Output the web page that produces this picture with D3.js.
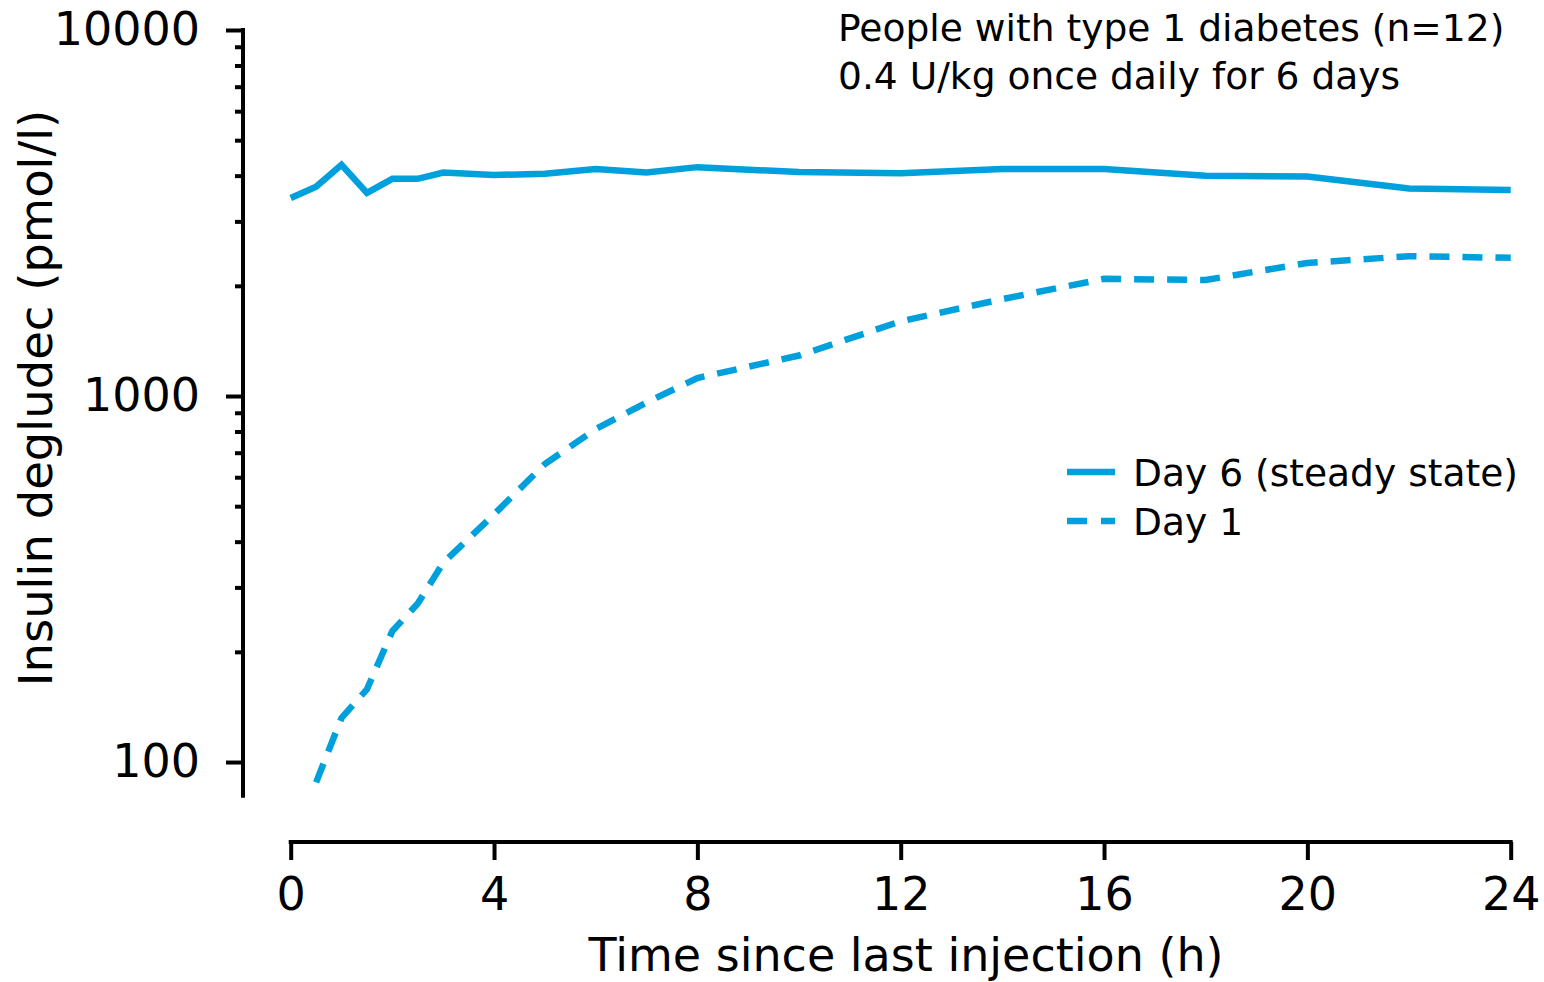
<!DOCTYPE html>
<html>
<head>
<meta charset="utf-8">
<script src="https://cdn.jsdelivr.net/npm/d3@7"></script>
<style>
  body { margin: 0; background: #fff; }
  text { font-family: "DejaVu Sans", Verdana, sans-serif; fill: #000; }
</style>
</head>
<body>
<div class="canva"></div>
<script>
// hours after injection
const day6_hours = [0, 0.5, 1, 1.5, 2, 2.5, 3, 4, 5, 6, 7, 8, 10, 12, 14, 16, 18, 20, 22, 24]
const day6_values = [3475, 3730, 4280, 3590, 3920, 3920, 4080, 4015, 4050, 4170, 4080, 4220, 4090, 4060, 4170, 4170, 4000, 3980, 3690, 3655]

const day1_hours = [0.5, 1, 1.5, 2, 2.5, 3, 4, 5, 6, 7, 8, 10, 12, 14, 16, 18, 20, 22, 24]
const day1_values = [88, 132, 158, 228, 271, 350, 475, 652, 812, 960, 1120, 1290, 1600, 1840, 2090, 2075, 2310, 2410, 2385]

const x_ticks = [0, 4, 8, 12, 16, 20, 24]
const y_major = [100, 1000, 10000]
const y_minor = [200, 300, 400, 500, 600, 700, 800, 900, 2000, 3000, 4000, 5000, 6000, 7000, 8000, 9000]

const legend_labels = ["Day 6 (steady state)", "Day 1"]
const note_lines = ["People with type 1 diabetes (n=12)", "0.4 U/kg once daily for 6 days"]

const blue = "#00a0dc"

function render() {
    const svg = d3.select('.canva').append('svg')
        .attr('width', 1544)
        .attr('height', 982)

    const x = d3.scaleLinear().domain([0, 24]).range([290.7, 1510.7])
    const y = d3.scaleLog().domain([80, 10000]).range([797.5, 30])

    // y axis, minor ticks first then major ones with labels
    const yg = svg.append('g').attr('transform', 'translate(243,0)')
    yg.append('g')
        .call(d3.axisLeft(y).tickValues(y_minor).tickSize(8).tickFormat(''))
    yg.append('g')
        .call(d3.axisLeft(y).tickValues(y_major).tickSize(17).tickSizeOuter(0)
            .tickPadding(26).tickFormat(d3.format('d')))
    yg.selectAll('path, line').attr('stroke', '#000').attr('stroke-width', 4)
    yg.selectAll('.domain').attr('d', 'M0,' + y(80) + 'V' + (y(10000) - 2))
    yg.selectAll('text').style('font-size', '46px').style('font-family', '"DejaVu Sans"')

    // x axis
    const xg = svg.append('g').attr('transform', 'translate(0,842)')
        .call(d3.axisBottom(x).tickValues(x_ticks).tickSize(18).tickSizeOuter(0).tickPadding(17))
    xg.selectAll('path, line').attr('stroke', '#000').attr('stroke-width', 4)
    xg.select('.domain').attr('d', 'M' + (x(0) - 2) + ',0H' + (x(24) + 2))
    xg.selectAll('text').style('font-size', '46px').style('font-family', '"DejaVu Sans"')

    svg.append('text')
        .attr('transform', 'translate(52,398) rotate(-90)')
        .attr('text-anchor', 'middle')
        .style('font-size', '46.5px')
        .text('Insulin degludec (pmol/l)')

    svg.append('text')
        .attr('x', 906).attr('y', 971)
        .attr('text-anchor', 'middle')
        .style('font-size', '46px')
        .text('Time since last injection (h)')

    const line = d3.line().x(d => x(d[0])).y(d => y(d[1]))

    svg.append('path')
        .datum(d3.zip(day6_hours, day6_values))
        .attr('d', line)
        .attr('fill', 'none')
        .attr('stroke', blue)
        .attr('stroke-width', 6.5)

    svg.append('path')
        .datum(d3.zip(day1_hours, day1_values))
        .attr('d', line)
        .attr('fill', 'none')
        .attr('stroke', blue)
        .attr('stroke-width', 6.5)
        .attr('stroke-dasharray', '20,13')

    // legend
    legend_labels.forEach((lab, i) => {
        const ly = 472 + i * 49
        svg.append('line')
            .attr('x1', 1067).attr('x2', 1115)
            .attr('y1', ly).attr('y2', ly)
            .attr('stroke', blue).attr('stroke-width', 6.5)
            .attr('stroke-dasharray', i == 1 ? '20,14' : null)
        svg.append('text')
            .attr('x', 1133).attr('y', ly + 14)
            .style('font-size', '37.6px')
            .text(lab)
    })

    note_lines.forEach((t, i) => {
        svg.append('text')
            .attr('x', 838).attr('y', 41 + i * 48)
            .style('font-size', '37.6px')
            .text(t)
    })
}
render()
</script>
</body>
</html>
